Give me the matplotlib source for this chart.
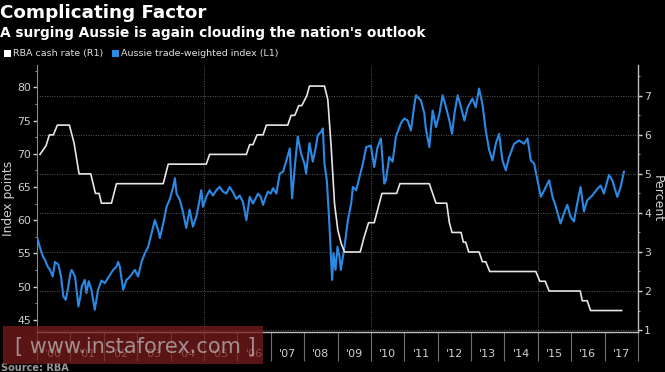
import matplotlib
matplotlib.use("Agg")
import matplotlib.pyplot as plt
from matplotlib.patches import Rectangle
import numpy as np

# ---- data ----
twi_t = [2000.00, 2000.08, 2000.18, 2000.24, 2000.32, 2000.39, 2000.47, 2000.54, 2000.64, 2000.72,
         2000.79, 2000.86, 2000.92, 2001.00, 2001.04, 2001.14, 2001.24, 2001.30, 2001.34, 2001.43,
         2001.48, 2001.55, 2001.63, 2001.73, 2001.83, 2001.93, 2002.03, 2002.13, 2002.22, 2002.28,
         2002.38, 2002.43, 2002.48, 2002.58, 2002.68, 2002.75, 2002.83, 2002.93, 2003.03, 2003.13,
         2003.23, 2003.33, 2003.43, 2003.53, 2003.63, 2003.68, 2003.78, 2003.88, 2003.98, 2004.08,
         2004.13, 2004.18, 2004.28, 2004.36, 2004.42, 2004.47, 2004.57, 2004.67, 2004.77, 2004.85,
         2004.92, 2004.97, 2005.07, 2005.17, 2005.27, 2005.37, 2005.47, 2005.57, 2005.67, 2005.77,
         2005.87, 2005.97, 2006.07, 2006.17, 2006.27, 2006.37, 2006.47, 2006.55, 2006.62, 2006.70,
         2006.77, 2006.85, 2006.92, 2007.00, 2007.07, 2007.17, 2007.27, 2007.37, 2007.47, 2007.57,
         2007.64, 2007.72, 2007.81, 2007.91, 2008.01, 2008.06, 2008.16, 2008.26, 2008.35, 2008.41,
         2008.51, 2008.56, 2008.61, 2008.68, 2008.74, 2008.79, 2008.84, 2008.88, 2008.94, 2009.00,
         2009.06, 2009.10, 2009.21, 2009.31, 2009.41, 2009.46, 2009.56, 2009.66, 2009.76, 2009.86,
         2010.00, 2010.10, 2010.20, 2010.30, 2010.40, 2010.45, 2010.55, 2010.65, 2010.75, 2010.90,
         2011.00, 2011.10, 2011.20, 2011.30, 2011.35, 2011.50, 2011.60, 2011.65, 2011.75, 2011.85,
         2011.95, 2012.05, 2012.15, 2012.25, 2012.35, 2012.43, 2012.50, 2012.60, 2012.70, 2012.80,
         2012.90, 2013.04, 2013.14, 2013.24, 2013.34, 2013.44, 2013.54, 2013.64, 2013.74, 2013.84,
         2013.94, 2014.04, 2014.14, 2014.29, 2014.44, 2014.59, 2014.69, 2014.79, 2014.89, 2014.99,
         2015.09, 2015.19, 2015.34, 2015.44, 2015.54, 2015.68, 2015.78, 2015.88, 2015.98, 2016.08,
         2016.18, 2016.28, 2016.38, 2016.48, 2016.63, 2016.78, 2016.88, 2016.98, 2017.13, 2017.23,
         2017.38, 2017.48, 2017.58]
twi_v = [57.5, 56.0, 54.5, 54.0, 53.0, 52.5, 51.5, 53.7, 53.3, 51.5,
         48.5, 48.0, 49.5, 52.0, 52.5, 51.5, 47.0, 48.5, 50.0, 51.0,
         49.0, 50.8, 49.5, 46.5, 49.5, 50.9, 50.5, 51.3, 52.0, 52.5,
         53.0, 53.7, 53.0, 49.5, 51.0, 51.3, 51.8, 52.5, 51.5, 53.7,
         55.0, 56.0, 58.0, 60.0, 58.5, 57.3, 59.5, 62.0, 63.2, 65.0,
         66.3, 64.0, 63.0, 61.5, 60.0, 58.8, 61.6, 59.0, 60.5, 62.5,
         64.5, 62.0, 63.5, 64.5, 63.7, 64.5, 65.0, 64.3, 64.0, 65.0,
         64.2, 63.2, 63.7, 62.7, 60.0, 63.5, 62.5, 63.3, 64.0, 63.5,
         62.3, 63.5, 64.3, 64.0, 64.8, 64.0, 67.0, 67.3, 69.0, 70.8,
         63.3, 68.0, 72.6, 70.0, 68.5, 67.0, 71.6, 68.8, 71.0, 72.8,
         73.3, 73.8, 68.5, 66.0, 61.0, 56.0, 51.0, 55.0, 52.5, 56.0,
         54.5, 52.5, 56.0, 60.0, 62.5, 65.0, 64.5, 66.5, 68.5, 71.0,
         71.2, 68.0, 71.0, 72.3, 65.5, 66.0, 69.5, 68.8, 72.6, 74.6,
         75.3, 75.0, 73.5, 77.3, 78.8, 78.0, 76.1, 73.6, 71.0, 76.5,
         74.0, 76.0, 78.8, 77.0, 75.0, 73.0, 76.0, 78.8, 77.0, 75.0,
         77.0, 78.3, 77.0, 79.8, 77.5, 73.5, 70.6, 69.0, 71.5, 73.0,
         69.0, 67.5, 69.5, 71.5, 72.0, 71.5, 72.3, 69.0, 68.5, 66.0,
         63.5, 64.5, 66.0, 63.5, 62.0, 59.5, 61.0, 62.3, 60.5, 59.8,
         62.5, 65.0, 61.3, 63.0, 63.7, 64.7, 65.2, 64.0, 66.8, 66.0,
         63.5, 65.0, 67.3]

rate_t = [2000.09, 2000.27, 2000.37, 2000.49, 2000.61, 2000.97, 2001.11, 2001.26, 2001.61, 2001.75,
          2001.86, 2001.93, 2002.23, 2002.38, 2003.78, 2003.93, 2005.07, 2005.17, 2006.27, 2006.37,
          2006.47, 2006.59, 2006.77, 2006.87, 2007.51, 2007.61, 2007.72, 2007.84, 2007.93, 2008.08,
          2008.16, 2008.61, 2008.71, 2008.81, 2008.91, 2009.01, 2009.11, 2009.21, 2009.68, 2009.80,
          2009.93, 2010.10, 2010.33, 2010.77, 2010.87, 2011.75, 2011.95, 2012.27, 2012.35, 2012.43,
          2012.70, 2012.77, 2012.84, 2012.93, 2013.24, 2013.34, 2013.44, 2013.56, 2014.94, 2015.06,
          2015.22, 2015.34, 2016.27, 2016.33, 2016.48, 2016.58, 2017.51]
rate_v = [5.50, 5.72, 6.00, 6.00, 6.25, 6.25, 5.79, 5.00, 5.00, 4.50,
          4.50, 4.25, 4.25, 4.75, 4.75, 5.25, 5.25, 5.50, 5.50, 5.75,
          5.75, 6.00, 6.00, 6.25, 6.25, 6.50, 6.50, 6.75, 6.75, 7.00,
          7.25, 7.25, 6.90, 5.70, 4.25, 3.56, 3.22, 3.00, 3.00, 3.39,
          3.75, 3.75, 4.50, 4.50, 4.75, 4.75, 4.25, 4.25, 3.75, 3.50,
          3.50, 3.25, 3.25, 3.00, 3.00, 2.75, 2.75, 2.50, 2.50, 2.25,
          2.25, 2.00, 2.00, 1.75, 1.75, 1.50, 1.50]

years = list(range(2000, 2018))
year_labels = ["'00", "'01", "'02", "'03", "'04", "'05", "'06", "'07", "'08", "'09",
               "'10", "'11", "'12", "'13", "'14", "'15", "'16", "'17"]
left_ticks = [45, 50, 55, 60, 65, 70, 75, 80]
right_ticks = [1, 2, 3, 4, 5, 6, 7]

# ---- figure ----
W, H = 665, 372
fig = plt.figure(figsize=(W / 100, H / 100), dpi=100, facecolor='black')
x0, x1, y0, y1 = 37, 638, 65, 332
ax = fig.add_axes([x0 / W, 1 - y1 / H, (x1 - x0) / W, (y1 - y0) / H])
ax.set_facecolor('black')
ax2 = ax.twinx()

blue = '#2a8ae6'
white = '#e6e6e6'
tick_col = '#d0d0d0'
grid_col = '#5a5a5a'

ax.plot(twi_t, twi_v, color=blue, lw=1.5, zorder=3)
ax2.plot(rate_t, rate_v, color=white, lw=1.2, zorder=3)

ax.set_xlim(2000, 2018)
ax.set_ylim(43.15, 83.36)
ax2.set_ylim(0.95, 7.79)

# x ticks: long separators at year boundaries, labels mid-year
ax.set_xticks(years + [2018])
ax.set_xticklabels([])
ax.tick_params(axis='x', which='major', length=21, width=0.8, color='#707070', direction='out')
ax.set_xticks([y + 0.5 for y in years], minor=True)
ax.set_xticklabels(year_labels, minor=True)
ax.tick_params(axis='x', which='minor', length=0, pad=12, labelsize=8, labelcolor=tick_col)

ax.set_yticks(left_ticks)
ax.set_yticks(np.arange(45, 83, 2.5), minor=True)
ax.tick_params(axis='y', which='major', length=3, width=1, color=tick_col, labelsize=7.8,
               labelcolor=tick_col, pad=1.5)
ax.tick_params(axis='y', which='minor', length=1.5, width=0.8, color='#909090')

ax2.set_yticks(right_ticks)
ax2.set_yticks(np.arange(1.5, 7.6, 0.5), minor=True)
ax2.tick_params(axis='y', which='major', length=3, width=1, color=tick_col, labelsize=7.8,
                labelcolor=tick_col, pad=1.5)
ax2.tick_params(axis='y', which='minor', length=1.5, width=0.8, color='#909090')

for a in (ax, ax2):
    for s in a.spines.values():
        s.set_visible(False)
ax.spines['left'].set_visible(True)
ax.spines['left'].set_color('#8a8a8a')
ax.spines['left'].set_linewidth(0.8)
ax.spines['bottom'].set_visible(True)
ax.spines['bottom'].set_color('#bdbdbd')
ax.spines['bottom'].set_linewidth(1.0)
ax2.spines['right'].set_visible(True)
ax2.spines['right'].set_color('#bdbdbd')
ax2.spines['right'].set_linewidth(1.0)

# grid
for g in right_ticks:
    ax2.axhline(g, color=grid_col, lw=0.7, ls=(0, (1, 1.5)), zorder=1)
for g in [2005, 2010, 2015]:
    ax.axvline(g, color=grid_col, lw=0.7, ls=(0, (1, 1.5)), zorder=1)

ax.set_ylabel('Index points', color=tick_col, fontsize=8.8, labelpad=1)
ax2.set_ylabel('Percent', color=tick_col, fontsize=9, rotation=270, labelpad=9)

# titles and legend
fig.text(0.0, 1 - 12.5 / H, 'Complicating Factor', color='white', fontsize=13.2,
         fontweight='bold', ha='left', va='center')
fig.text(0.0, 1 - 32.5 / H, "A surging Aussie is again clouding the nation's outlook",
         color='white', fontsize=9.9, fontweight='bold', ha='left', va='center')
ly = 1 - 53.5 / H
fig.patches.append(Rectangle((4 / W, ly - 3.5 / H), 7 / W, 7 / H, transform=fig.transFigure,
                             facecolor='white', edgecolor='none'))
fig.text(13 / W, ly, 'RBA cash rate (R1)', color='#e0e0e0', fontsize=6.8, ha='left', va='center')
fig.patches.append(Rectangle((112 / W, ly - 3.5 / H), 7 / W, 7 / H, transform=fig.transFigure,
                             facecolor=blue, edgecolor='none'))
fig.text(121 / W, ly, 'Aussie trade-weighted index (L1)', color='#e0e0e0', fontsize=6.8,
         ha='left', va='center')

# source
fig.text(1 / W, 1 - 368 / H, 'Source: RBA', color='#9a9a9a', fontsize=7, fontweight='bold',
         ha='left', va='center')

# watermark overlay
wm = Rectangle((3 / W, 1 - 364 / H), 260 / W, 38 / H, transform=fig.transFigure,
               facecolor='#7a1c1c', edgecolor='none', alpha=0.75, zorder=10)
fig.patches.append(wm)
fig.text(135 / W, 1 - 347 / H, '[ www.instaforex.com ]', color='#b8b8b8', alpha=0.75,
         fontsize=15, ha='center', va='center', zorder=11)

fig.savefig('out.png', dpi=100, facecolor='black')
